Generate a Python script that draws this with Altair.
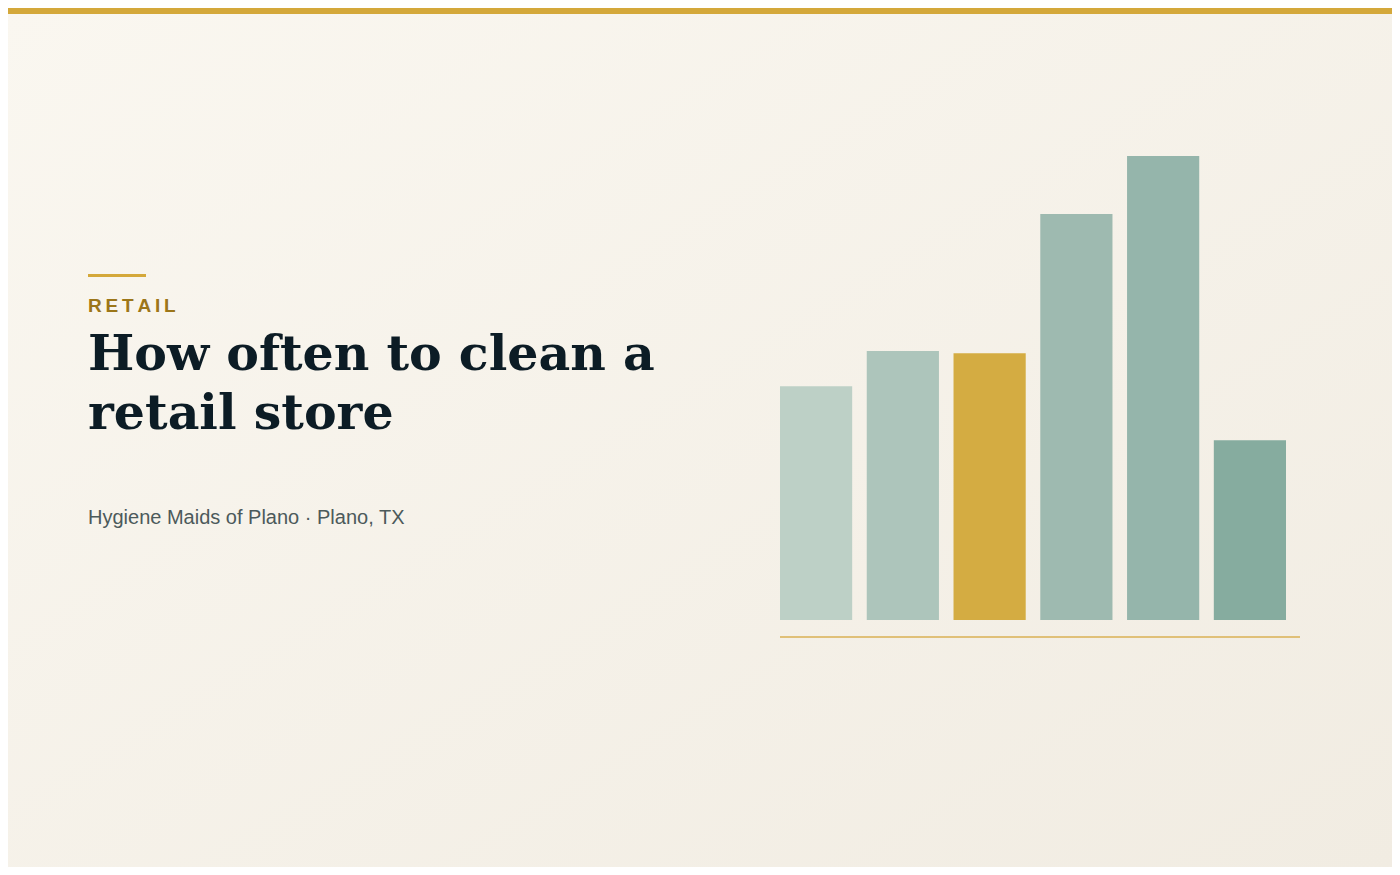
import altair as alt
import pandas as pd

# ---- data ----
categories = ["c1", "c2", "c3", "c4", "c5", "c6"]
values = [40.3, 46.4, 46, 70, 80, 31]
bar_colors = ["#BDD0C6", "#ADC5BB", "#D4AC42", "#9EBAB0", "#95B5AB", "#86AC9F"]

kicker = "RETAIL"
title_lines = ["How often to clean a", "retail store"]
subtitle = "Hygiene Maids of Plano \u00b7 Plano, TX"

W, H = 1384, 859
OFF = 8  # page margin offset

bars_df = pd.DataFrame({"cat": categories, "val": values})
one = pd.DataFrame({"k": [0]})

bg = alt.Chart(one).mark_rect(
    color=alt.LinearGradient(
        gradient="linear", x1=0, y1=0, x2=1, y2=1,
        stops=[alt.GradientStop(color="#FAF7F0", offset=0),
               alt.GradientStop(color="#F1ECE2", offset=1)],
    )
).encode(x=alt.value(0), x2=alt.value(W), y=alt.value(0), y2=alt.value(H))

topbar = alt.Chart(one).mark_rect(color="#D4A83A").encode(
    x=alt.value(0), x2=alt.value(W), y=alt.value(0), y2=alt.value(6)
)

accent = alt.Chart(one).mark_rect(color="#D4A83A").encode(
    x=alt.value(88 - OFF), x2=alt.value(146 - OFF), y=alt.value(274 - OFF), y2=alt.value(277 - OFF)
)

kicker_t = alt.Chart(pd.DataFrame({"t": ["\u2009".join(kicker)]})).mark_text(
    font="Liberation Sans", fontSize=19, fontWeight="bold", color="#9C7619",
    align="left", baseline="alphabetic"
).encode(x=alt.value(88 - OFF), y=alt.value(311.5 - OFF), text="t:N")

title_t = alt.Chart(pd.DataFrame({"t": ["\n".join(title_lines)]})).mark_text(
    font="DejaVu Serif", fontSize=49, fontWeight="bold", color="#0C1C25",
    align="left", baseline="alphabetic", lineBreak="\n", lineHeight=59
).encode(x=alt.value(88 - OFF), y=alt.value(370 - OFF), text="t:N")

sub_t = alt.Chart(pd.DataFrame({"t": [subtitle]})).mark_text(
    font="Liberation Sans", fontSize=20, color="#4C5A5B",
    align="left", baseline="alphabetic"
).encode(x=alt.value(88 - OFF), y=alt.value(524 - OFF), text="t:N")

bars = alt.Chart(bars_df).mark_bar().encode(
    x=alt.X("cat:N", sort=categories, axis=None,
            scale=alt.Scale(range=[780 - OFF, 1286 - OFF], paddingInner=0.168, paddingOuter=0)),
    y=alt.Y("val:Q", axis=None,
            scale=alt.Scale(domain=[0, 80], range=[620 - OFF, 156 - OFF])),
    color=alt.Color("cat:N", sort=categories, legend=None,
                    scale=alt.Scale(domain=categories, range=bar_colors)),
)

baseline = alt.Chart(one).mark_rule(color="#E0C078", strokeWidth=2).encode(
    x=alt.value(780 - OFF), x2=alt.value(1300 - OFF), y=alt.value(637 - OFF)
)

chart = alt.layer(bg, topbar, accent, kicker_t, title_t, sub_t, bars, baseline).resolve_scale(
    x="independent", y="independent", color="independent"
).properties(
    width=W, height=H, padding=0, autosize="none"
).configure_view(stroke=None).configure(background="#F6F2EA")

chart.save("out.html", embed_options={"renderer": "svg", "actions": False})
